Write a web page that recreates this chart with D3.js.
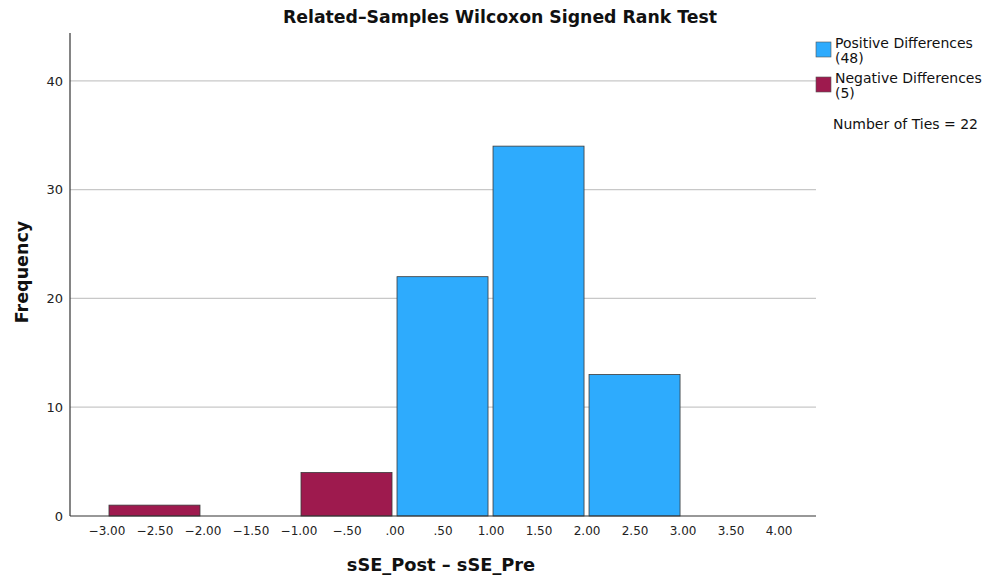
<!DOCTYPE html>
<html><head><meta charset="utf-8">
<script src="https://cdn.jsdelivr.net/npm/d3@7/dist/d3.min.js"></script>
<style>body{margin:0;background:#fff;} svg{display:block;font-family:"DejaVu Sans",sans-serif;}</style>
</head><body>
<svg id="c" width="998" height="575"></svg>
<script>
const binStarts = [-3, -1, 0, 1, 2];
const binEnds   = [-2, 0, 1, 2, 3];
const freqs     = [1, 4, 22, 34, 13];
const signs     = ["neg", "neg", "pos", "pos", "pos"];
const xTicks = [-3, -2.5, -2, -1.5, -1, -0.5, 0, 0.5, 1, 1.5, 2, 2.5, 3, 3.5, 4];
const yTicks = [0, 10, 20, 30, 40];
const legendLabels = ["Positive Differences", "Negative Differences"];
const legendCounts = ["(48)", "(5)"];
const tiesText = "Number of Ties = 22";

const colors = {pos: "#2eabfd", neg: "#9e1a4e"};
const svg = d3.select("#c");
const L = 70, R = 816, T = 33, B = 516;
const x = d3.scaleLinear().domain([-3.38, 4.39]).range([L, R]);
const y = d3.scaleLinear().domain([0, 44.4]).range([B, T]);

// gridlines
svg.append("g").selectAll("line").data(yTicks.filter(d => d > 0)).join("line")
  .attr("x1", L).attr("x2", R).attr("y1", d => y(d)).attr("y2", d => y(d))
  .attr("stroke", "#c8c8c8").attr("stroke-width", 1.2);

// bars
const data = binStarts.map((s, i) => ({s, e: binEnds[i], f: freqs[i], sign: signs[i]}));
svg.append("g").selectAll("rect").data(data).join("rect")
  .attr("x", d => x(d.s) + 2.5)
  .attr("width", d => x(d.e) - x(d.s) - 5)
  .attr("y", d => y(d.f))
  .attr("height", d => y(0) - y(d.f))
  .attr("fill", d => colors[d.sign])
  .attr("stroke", "#3a3a3a").attr("stroke-width", 0.8);

// axes
const xAxis = d3.axisBottom(x).tickValues(xTicks).tickSize(0).tickPadding(10)
  .tickFormat(d => {
    let s = Math.abs(d).toFixed(2);
    if (s.startsWith("0")) s = s.slice(1);
    return (d < 0 ? "\u2212" : "") + s;
  });
const gx = svg.append("g").attr("transform", `translate(0,${B})`).call(xAxis);
gx.select(".domain").attr("d", `M${L},0H${R}`).attr("stroke", "#333").attr("stroke-width", 1.2);
gx.selectAll("text").attr("font-size", 12).attr("fill", "#222").attr("font-family", "DejaVu Sans");

const yAxis = d3.axisLeft(y).tickValues(yTicks).tickSize(0).tickPadding(7);
const gy = svg.append("g").attr("transform", `translate(${L},0)`).call(yAxis);
gy.select(".domain").attr("d", `M0,${T}V${B}`).attr("stroke", "#333").attr("stroke-width", 1.2);
gy.selectAll("text").attr("font-size", 13).attr("fill", "#222").attr("font-family", "DejaVu Sans");

// title
svg.append("text").attr("x", 500).attr("y", 23).attr("text-anchor", "middle")
  .attr("font-size", 17.3).attr("font-weight", "bold").attr("fill", "#111")
  .text("Related\u2013Samples Wilcoxon Signed Rank Test");
svg.append("text").attr("x", 441).attr("y", 571).attr("text-anchor", "middle")
  .attr("font-size", 17.8).attr("font-weight", "bold").attr("fill", "#111")
  .text("sSE_Post \u2013 sSE_Pre");
svg.append("text").attr("transform", "translate(28,272) rotate(-90)").attr("text-anchor", "middle")
  .attr("font-size", 17.5).attr("font-weight", "bold").attr("fill", "#111")
  .text("Frequency");

// legend
const lg = svg.append("g");
["pos", "neg"].forEach((k, i) => {
  const y0 = 42 + i * 35;
  lg.append("rect").attr("x", 816).attr("y", y0).attr("width", 15).attr("height", 15)
    .attr("fill", colors[k]).attr("stroke", "#555").attr("stroke-width", 0.6);
  lg.append("text").attr("x", 835).attr("y", y0 + 6).attr("font-size", 14).attr("fill", "#111")
    .text(legendLabels[i]);
  lg.append("text").attr("x", 835).attr("y", y0 + 21).attr("font-size", 14).attr("fill", "#111")
    .text(legendCounts[i]);
});
lg.append("text").attr("x", 833).attr("y", 129).attr("font-size", 14).attr("fill", "#111").text(tiesText);
</script>
</body></html>
